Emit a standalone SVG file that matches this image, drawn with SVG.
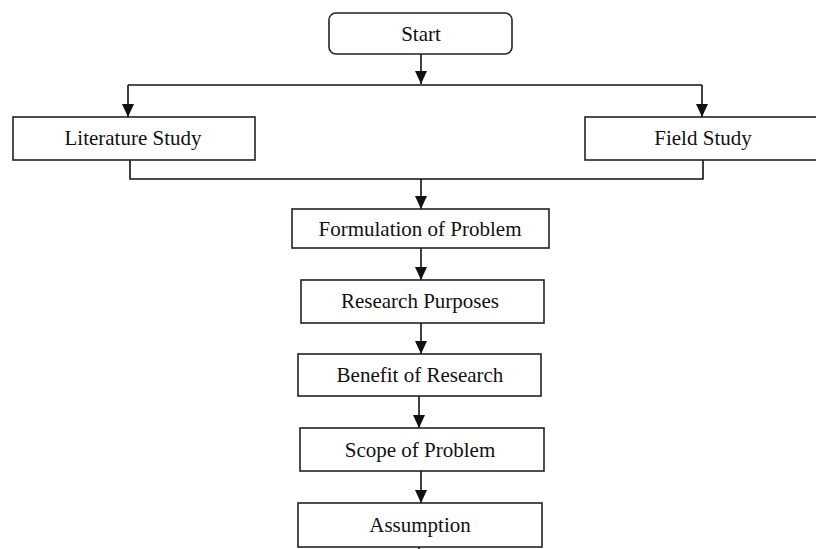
<svg xmlns="http://www.w3.org/2000/svg" width="816" height="549" viewBox="0 0 816 549">
<style>
.box{fill:#fff;stroke:#222;stroke-width:1.6}
.lbl{font-family:"Liberation Serif","Times New Roman",serif;font-size:21px;fill:#111;text-anchor:middle}
.con{fill:none;stroke:#111;stroke-width:1.6}
</style>
<defs>
<marker id="arr" markerUnits="userSpaceOnUse" markerWidth="13" markerHeight="12" refX="13" refY="6" orient="auto" viewBox="0 0 13 12">
<path d="M0,0 L13,6 L0,12 Z" fill="#111"/>
</marker>
</defs>
<rect width="816" height="549" fill="#fff"/>
<g id="connectors">
<line class="con" x1="421" y1="54" x2="421" y2="84" marker-end="url(#arr)"/>
<line class="con" x1="128" y1="85" x2="702" y2="85"/>
<line class="con" x1="128" y1="85" x2="128" y2="117" marker-end="url(#arr)"/>
<line class="con" x1="702" y1="85" x2="702" y2="117" marker-end="url(#arr)"/>
<polyline class="con" points="130,160 130,179 703,179 703,160"/>
<line class="con" x1="421" y1="179" x2="421" y2="209" marker-end="url(#arr)"/>
<line class="con" x1="421" y1="248" x2="421" y2="280" marker-end="url(#arr)"/>
<line class="con" x1="421" y1="323" x2="421" y2="354" marker-end="url(#arr)"/>
<line class="con" x1="419" y1="396" x2="419" y2="428" marker-end="url(#arr)"/>
<line class="con" x1="421" y1="471" x2="421" y2="503" marker-end="url(#arr)"/>
<line class="con" x1="419" y1="547" x2="419" y2="549"/>
</g>
<g id="start">
<rect class="box" x="329" y="13" width="183" height="41" rx="7"/>
<text class="lbl" x="421" y="41">Start</text>
</g>
<g id="literature-study">
<rect class="box" x="13" y="117" width="242" height="43"/>
<text class="lbl" x="133" y="145">Literature Study</text>
</g>
<g id="field-study">
<rect class="box" x="585" y="117" width="236" height="43"/>
<text class="lbl" x="703" y="145">Field Study</text>
</g>
<g id="formulation">
<rect class="box" x="292" y="209" width="257" height="39"/>
<text class="lbl" x="420" y="236">Formulation of Problem</text>
</g>
<g id="research-purposes">
<rect class="box" x="301" y="280" width="243" height="43"/>
<text class="lbl" x="420" y="308">Research Purposes</text>
</g>
<g id="benefit">
<rect class="box" x="298" y="354" width="243" height="42"/>
<text class="lbl" x="420" y="382">Benefit of Research</text>
</g>
<g id="scope">
<rect class="box" x="300" y="428" width="244" height="43"/>
<text class="lbl" x="420" y="457">Scope of Problem</text>
</g>
<g id="assumption">
<rect class="box" x="298" y="503" width="244" height="44"/>
<text class="lbl" x="420" y="532">Assumption</text>
</g>
</svg>
